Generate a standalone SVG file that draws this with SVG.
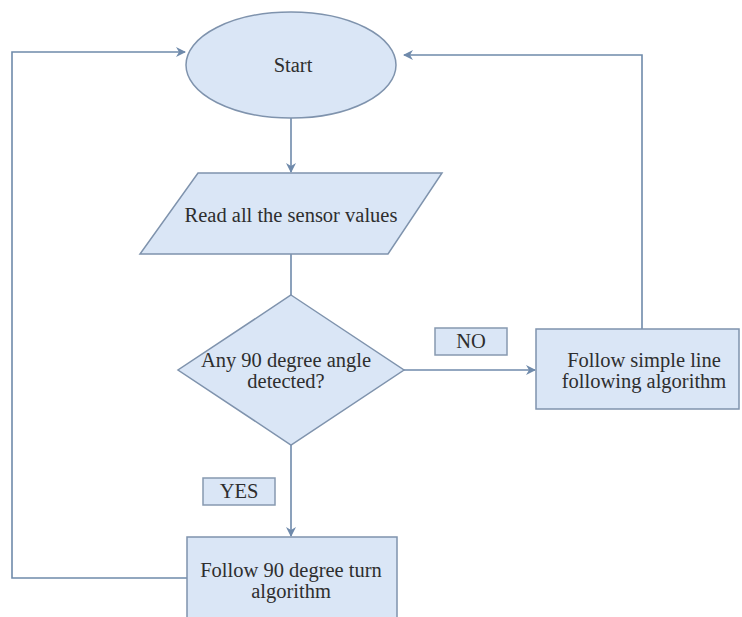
<svg xmlns="http://www.w3.org/2000/svg" width="742" height="617" viewBox="0 0 742 617">
<defs>
<style>
.shape{fill:#dae6f6;stroke:#7f93ad;stroke-width:1.5}
.lbl{fill:#dae6f6;stroke:#8799b0;stroke-width:1.5}
.t{font-family:"Liberation Serif","Times New Roman",serif;font-size:20.5px;fill:#2e2e2e;text-anchor:middle}
.c{fill:none;stroke:#6f8aab;stroke-width:1.6}
</style>
<marker id="ah" markerWidth="10" markerHeight="10" refX="9" refY="5" orient="auto" markerUnits="userSpaceOnUse">
<path d="M0,0 L10,5 L0,10 L3,5 Z" fill="#6f8aab"/>
</marker>
</defs>
<rect width="742" height="617" fill="#ffffff"/>
<g id="connectors">
<line class="c" x1="291" y1="118" x2="291" y2="172" marker-end="url(#ah)"/>
<line class="c" x1="291" y1="254" x2="291" y2="295"/>
<line class="c" x1="404" y1="370" x2="535" y2="370" marker-end="url(#ah)"/>
<polyline class="c" points="642,329 642,55 404,55" marker-end="url(#ah)"/>
<line class="c" x1="291" y1="445" x2="291" y2="536" marker-end="url(#ah)"/>
<polyline class="c" points="187,578 12,578 12,52 185,52" marker-end="url(#ah)"/>
</g>
<g id="start">
<ellipse class="shape" cx="291" cy="65" rx="105" ry="53"/>
<text class="t" x="293" y="72">Start</text>
</g>
<g id="read">
<polygon class="shape" points="198,173 442,173 388,254 140,254"/>
<text class="t" x="291" y="222">Read all the sensor values</text>
</g>
<g id="decision">
<polygon class="shape" points="291,295 404,370 291,445 178,370"/>
<text class="t" x="286" y="367">Any 90 degree angle</text>
<text class="t" x="286" y="388">detected?</text>
</g>
<g id="no-label">
<rect class="lbl" x="435" y="328" width="72" height="27"/>
<text class="t" x="471" y="348">NO</text>
</g>
<g id="simple">
<rect class="shape" x="536" y="329" width="203" height="80"/>
<text class="t" x="644" y="367">Follow simple line</text>
<text class="t" x="644" y="388">following algorithm</text>
</g>
<g id="yes-label">
<rect class="lbl" x="203" y="478" width="72" height="27"/>
<text class="t" x="239" y="498">YES</text>
</g>
<g id="turn">
<rect class="shape" x="187" y="537" width="210" height="95"/>
<text class="t" x="291" y="577">Follow 90 degree turn</text>
<text class="t" x="291" y="598">algorithm</text>
</g>
</svg>
